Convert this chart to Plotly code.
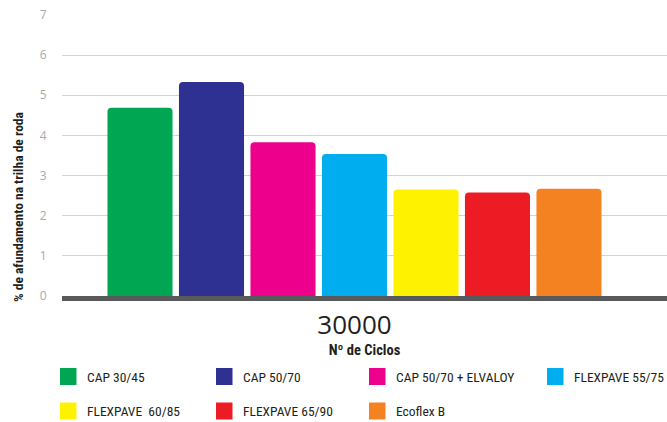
import plotly.graph_objects as go

# ---- data ----
categories = ["CAP 30/45", "CAP 50/70", "CAP 50/70 + ELVALOY", "FLEXPAVE 55/75",
              "FLEXPAVE  60/85", "FLEXPAVE 65/90", "Ecoflex B"]
values = [4.69, 5.33, 3.83, 3.54, 2.65, 2.58, 2.67]
colors = ["#00a651", "#2e3192", "#ec008c", "#00aeef", "#fff200", "#ed1c24", "#f58220"]
x_tick_labels = ["30000"]
y_ticks = [0, 1, 2, 3, 4, 5, 6, 7]

W, H = 667, 422
ML, MR, MT, MB = 62, 0, 15, 126
COND = "Roboto Condensed, DejaVu Sans Condensed, sans-serif"
REG = "Open Sans, Liberation Sans, sans-serif"


def px_x(p):
    return (p - ML) / (W - ML - MR)


def px_y(p):
    return 1 - (p - MT) / (H - MT - MB)


fig = go.Figure()
for i, (cat, val, col) in enumerate(zip(categories, values, colors)):
    fig.add_trace(go.Bar(
        x=[i], y=[val], name=cat, width=0.91,
        marker=dict(color=col, line=dict(width=0), cornerradius=4),
        showlegend=False,
    ))

# manual legend (two rows, four columns)
col_x = [60, 216, 369, 547]
row_y = [376.5, 411]
shapes = []
annotations = []
for i, (cat, col) in enumerate(zip(categories, colors)):
    r, c = divmod(i, 4)
    x0 = col_x[c]
    yc = row_y[r]
    shapes.append(dict(type="rect", xref="paper", yref="paper",
                       x0=px_x(x0), x1=px_x(x0 + 16.5),
                       y0=px_y(yc - 8.5), y1=px_y(yc + 8.5),
                       fillcolor=col, line=dict(width=0)))
    annotations.append(dict(xref="paper", yref="paper", x=px_x(x0 + 25), y=px_y(yc),
                            xanchor="left", yanchor="middle", showarrow=False,
                            text=cat, font=dict(family=COND, size=13.5, color="#231f20")))

annotations.append(dict(xref="paper", yref="paper", x=px_x(18), y=px_y(207),
                        xanchor="center", yanchor="middle", showarrow=False, textangle=-90,
                        text="<b>% de afundamento na trilha de roda</b>",
                        font=dict(family=COND, size=13.5, color="#231f20")))

fig.update_layout(
    width=W, height=H,
    margin=dict(l=ML, r=MR, t=MT, b=MB),
    paper_bgcolor="white", plot_bgcolor="white",
    barmode="overlay",
    shapes=shapes, annotations=annotations,
    font=dict(family=COND),
    xaxis=dict(
        range=[-1.091, 7.371], tickmode="array", tickvals=[3], ticktext=x_tick_labels,
        tickfont=dict(family=REG, size=26, color="#231f20"),
        ticks="outside", ticklen=2, tickcolor="rgba(0,0,0,0)",
        showgrid=False, zeroline=False,
        showline=True, linecolor="#58595b", linewidth=5,
        title=dict(text="<b>Nº de Ciclos</b>", standoff=4,
                   font=dict(family=COND, size=14.5, color="#231f20")),
        fixedrange=True,
    ),
    yaxis=dict(
        range=[0, 7], tickmode="array", tickvals=y_ticks,
        tickfont=dict(family=REG, size=12, color="#a7a9ac"),
        ticks="outside", ticklen=12, tickcolor="rgba(0,0,0,0)",
        showgrid=True, gridcolor="#d1d2d4", gridwidth=1.3,
        zeroline=False, showline=False, fixedrange=True,
    ),
)

fig.write_html("out.html")
